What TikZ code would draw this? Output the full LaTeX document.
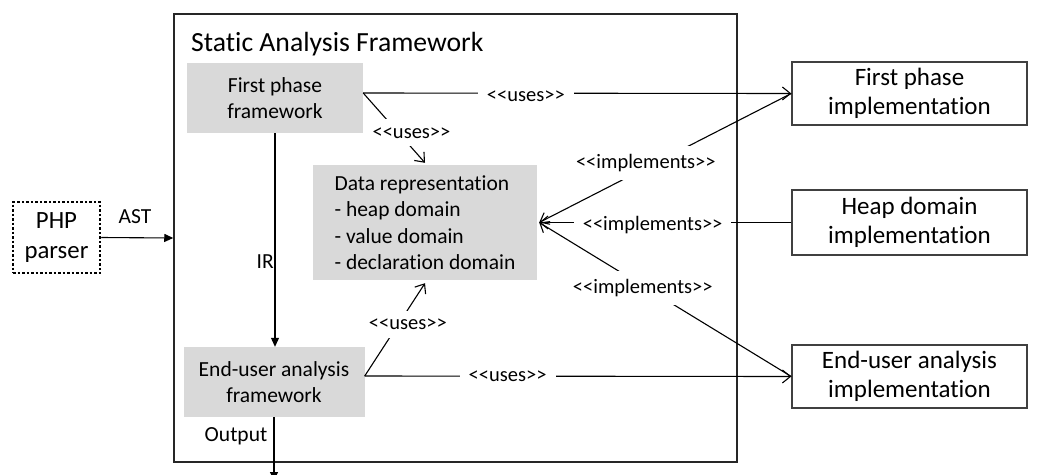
\documentclass[tikz,border=0pt]{standalone}
\usepackage{fontspec}
\setmainfont{Carlito}[Ligatures=NoCommon]
\usetikzlibrary{arrows.meta}
\definecolor{boxgray}{HTML}{D9D9D9}
\definecolor{edgegray}{HTML}{404040}
\definecolor{framecol}{HTML}{262626}
% stereotype brackets, kept apart so they are not merged into guillemets
\newcommand{\stOpen}{<\kern0pt<}
\newcommand{\stClose}{>\kern0pt>}
\newcommand{\stereo}[1]{\stOpen#1\stClose}
\begin{document}
\begin{tikzpicture}[x=1pt,y=-1pt,
  wire/.style={line width=1.1pt, black},
  usesarrow/.style={wire, -{Straight Barb[length=8pt,width=13pt,line width=1.1pt]}},
  flowarrow/.style={wire, -{Triangle[length=9pt,width=8pt]}},
  graybox/.style={fill=boxgray, align=center, inner sep=0pt, font=\fontsize{21.5}{26.5}\selectfont},
  implbox/.style={draw=edgegray, line width=1.5pt, align=center, inner sep=0pt,
    minimum width=235pt, font=\fontsize{25}{28.5}\selectfont},
  tag/.style={fill=white, inner xsep=9pt, inner ysep=8pt, font=\fontsize{20.5}{24}\selectfont},
  plain/.style={inner sep=0pt, font=\fontsize{21.5}{26}\selectfont},
]
\useasboundingbox (0,0) rectangle (1041,474);

% outer framework
\node[draw=framecol, line width=1.5pt, minimum width=563pt, minimum height=448pt, inner sep=0pt]
  (saf) at (455.5,238) {};
\node[anchor=base west, inner sep=0pt, font=\fontsize{27.7}{32}\selectfont]
  (title) at (191,51) {Static Analysis Framework};

% parser
\node[draw=black, line width=2.5pt, dash pattern=on 2.5pt off 2pt,
  minimum width=87pt, minimum height=71pt, inner sep=0pt, align=center,
  font=\fontsize{24.8}{30}\selectfont] (php) at (56.5,237.5) {PHP\\parser};

% inner components
\node[graybox, minimum width=176pt, minimum height=70pt] (fp) at (275,98) {First phase\\framework};
\node[graybox, minimum width=181pt, minimum height=70pt] (eu) at (274,382) {End-user analysis\\framework};
\node[graybox, minimum width=224pt, minimum height=115pt, align=left] (dr) at (425,222.5)
  {Data representation\\- heap domain\\- value domain\\- declaration domain};

% implementations
\node[implbox, minimum height=63pt] (fpi) at (909.5,93.5) {First phase\\implementation};
\node[implbox, minimum height=65pt] (hdi) at (909.5,222.5) {Heap domain\\implementation};
\node[implbox, minimum height=63pt] (eui) at (909.5,376.5) {End-user analysis\\implementation};

% connector end points
\coordinate (fpE) at ([yshift=5pt]fp.east);
\coordinate (euE) at ([yshift=6pt]eu.east);
\coordinate (drN) at ([yshift=2pt]dr.north);
\coordinate (drS) at ([yshift=-3pt]dr.south);
\coordinate (drE) at ([xshift=2pt]dr.east);
\coordinate (outEnd) at (274,481);

% data flow
\draw[flowarrow] (php.east) -- (saf.west);
\node[plain] (ast) at (135,216.5) {AST};
\draw[flowarrow] (fp.south) -- (fp.south |- eu.north);
\node[plain, anchor=east] (ir) at (274,262) {IR};
\draw[flowarrow] (eu.south) -- (outEnd);
\node[plain] (out) at (236,436) {Output};

% uses relations
\draw[usesarrow] (fpE) -- (fpi.west) node[tag, pos=0.38, yshift=-3pt] (u1) {\stereo{uses}};
\draw[usesarrow] (fpE) -- (drN) node[tag, pos=0.571, xshift=13pt] (u2) {\stereo{uses}};
\draw[usesarrow] (euE) -- (drS) node[tag, pos=0.559, xshift=9.5pt] (u3) {\stereo{uses}};
\draw[usesarrow] (euE) -- (eui.west) node[tag, pos=0.335] (u4) {\stereo{uses}};

% implements relations
\draw[usesarrow] (fpi.west) -- (drE) node[tag, pos=0.577, yshift=5pt] (i1) {\stereo{implements}};
\draw[usesarrow] (hdi.west) -- (drE) node[tag, pos=0.55, yshift=-2.5pt] (i2) {\stereo{implements}};
\draw[usesarrow] (eui.west) -- (drE) node[tag, pos=0.589, yshift=-2pt] (i3) {\stereo{implements}};
\end{tikzpicture}
\end{document}
